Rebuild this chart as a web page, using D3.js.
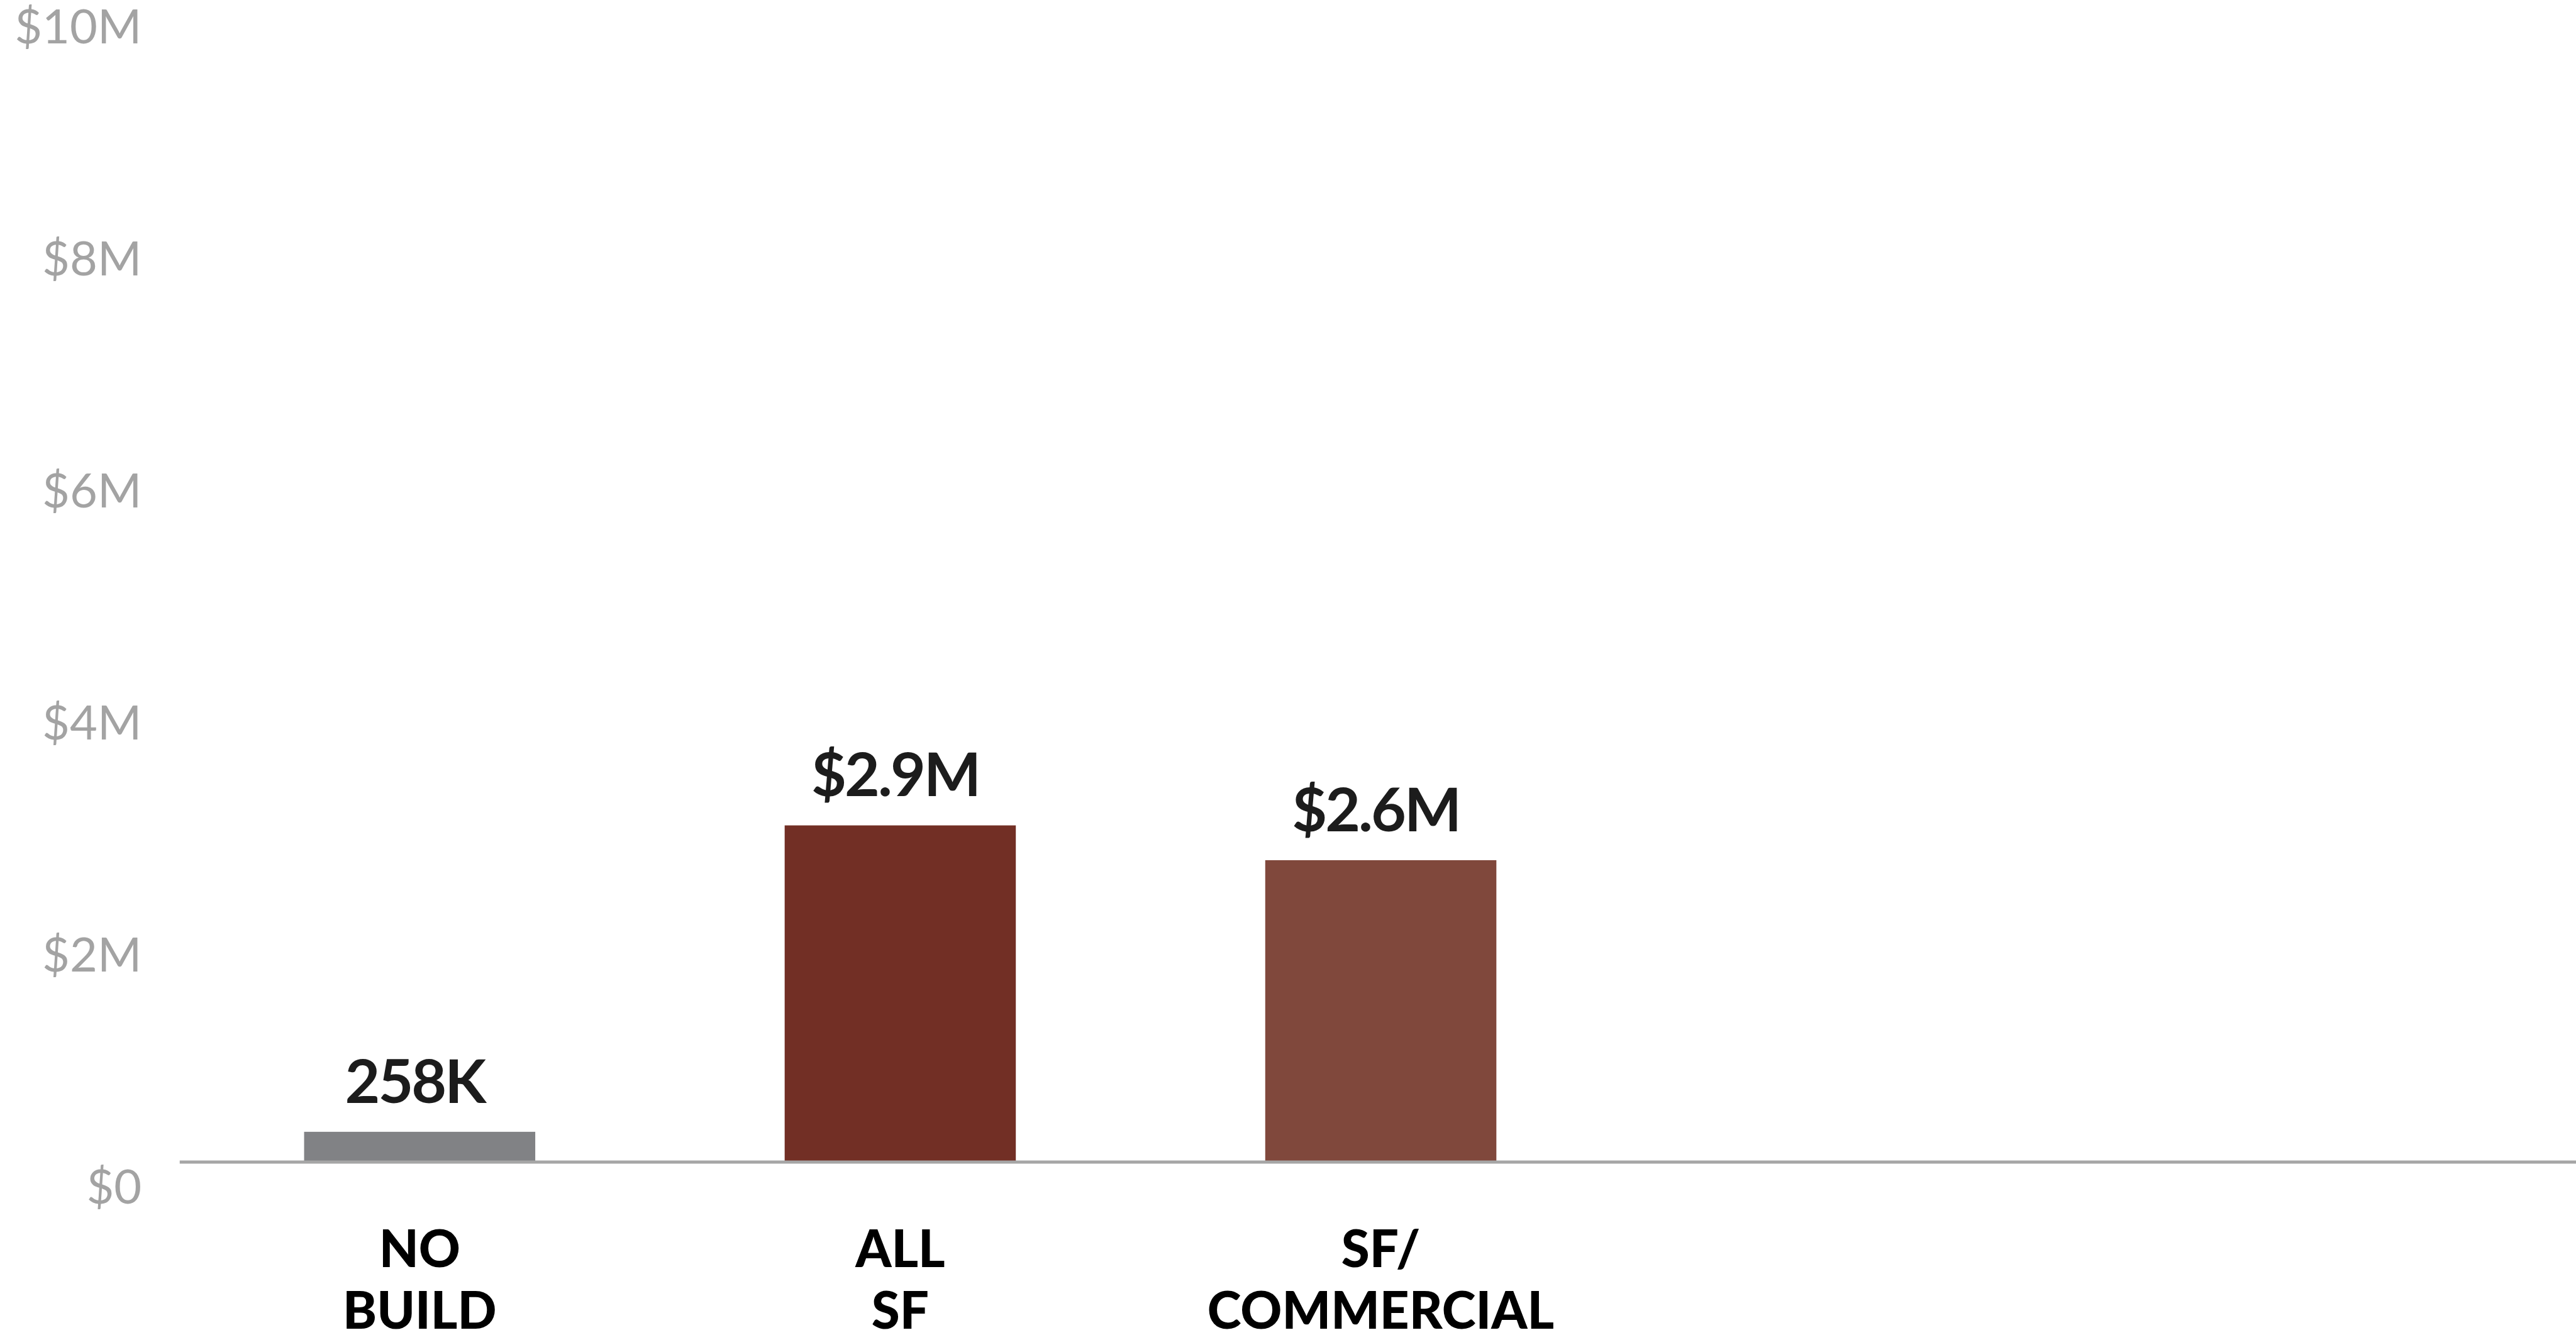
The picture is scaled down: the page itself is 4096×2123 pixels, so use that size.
<!DOCTYPE html>
<html>
<head>
<meta charset="utf-8">
<script src="https://cdn.jsdelivr.net/npm/d3@7"></script>
<style>
  html, body { margin: 0; padding: 0; background: #ffffff; }
  svg { display: block; }
</style>
</head>
<body>
<div id="chart"></div>
<script>
// Scenario names (each label is split over two lines) and their values in dollars
const categories = [["NO", "BUILD"], ["ALL", "SF"], ["SF/", "COMMERCIAL"]];
const values = [258000, 2900000, 2600000];
const valueLabels = ["258K", "$2.9M", "$2.6M"];
const barColors = ["#818285", "#722f25", "#80483c"];
const yTicks = [0, 2e6, 4e6, 6e6, 8e6, 10e6];
const yTickLabels = ["$0", "$2M", "$4M", "$6M", "$8M", "$10M"];
const slotCount = 5; // the layout leaves room for two further scenarios

// Drawing space is 4164 x 2158, scaled down to the window by the viewBox
const W = 4164, H = 2158;
const svg = d3.select("#chart").append("svg")
  .attr("width", 4096).attr("height", 2123)
  .attr("viewBox", `0 0 ${W} ${H}`);

const plot = { left: 290, right: 4174, top: 3, bottom: 1878 };

const x = d3.scaleBand()
  .domain(d3.range(slotCount))
  .range([plot.left, plot.right])
  .paddingInner(0.519)
  .paddingOuter(0.2595);

const y = d3.scaleLinear()
  .domain([0, 10e6])
  .range([plot.bottom, plot.top]);

// Y axis: labels only, set slightly below their gridline value
const yAxis = d3.axisLeft(y)
  .tickValues(yTicks)
  .tickFormat((d, i) => yTickLabels[i])
  .tickSize(0)
  .tickPadding(0);

svg.append("g")
  .attr("transform", "translate(229,0)")
  .call(yAxis)
  .call(g => g.select(".domain").remove())
  .call(g => g.selectAll("text")
    .attr("dy", 67)
    .attr("font-family", "Lato, 'DejaVu Sans', sans-serif")
    .attr("font-size", 77)
    .attr("font-weight", 400)
    .attr("fill", "#a3a3a3")
    .attr("text-anchor", "end"));

// Bars
const data = values.map((v, i) => ({ i, v, label: valueLabels[i], cat: categories[i], color: barColors[i] }));

svg.append("g").selectAll("rect")
  .data(data)
  .join("rect")
  .attr("x", d => x(d.i))
  .attr("width", x.bandwidth())
  .attr("y", d => y(d.v))
  .attr("height", d => y(0) - y(d.v))
  .attr("fill", d => d.color);

// Baseline axis
const xAxis = d3.axisBottom(x).tickSize(0).tickFormat("");
svg.append("g")
  .attr("transform", `translate(0,${y(0)})`)
  .call(xAxis)
  .call(g => g.select(".domain")
    .attr("stroke", "#a6a6a6")
    .attr("stroke-width", 5))
  .call(g => g.selectAll(".tick").remove());

// Value labels above the bars
svg.append("g").selectAll("text")
  .data(data)
  .join("text")
  .attr("x", d => x(d.i) + x.bandwidth() / 2 - 8)
  .attr("y", d => y(d.v) - 47)
  .attr("text-anchor", "middle")
  .attr("font-family", "Lato, 'DejaVu Sans', sans-serif")
  .attr("font-size", 98)
  .attr("font-weight", 700)
  .attr("letter-spacing", -3)
  .attr("fill", "#1c1c1c")
  .text(d => d.label);

// Category labels under the baseline
const cats = svg.append("g").selectAll("text")
  .data(data)
  .join("text")
  .attr("text-anchor", "middle")
  .attr("font-family", "Lato, 'DejaVu Sans', sans-serif")
  .attr("font-size", 83)
  .attr("font-weight", 900)
  .attr("fill", "#000000");

cats.selectAll("tspan")
  .data(d => d.cat.map(line => ({ line, cx: x(d.i) + x.bandwidth() / 2 })))
  .join("tspan")
  .attr("x", t => t.cx)
  .attr("y", (t, j) => 2048 + j * 100)
  .text(t => t.line);
</script>
</body>
</html>
